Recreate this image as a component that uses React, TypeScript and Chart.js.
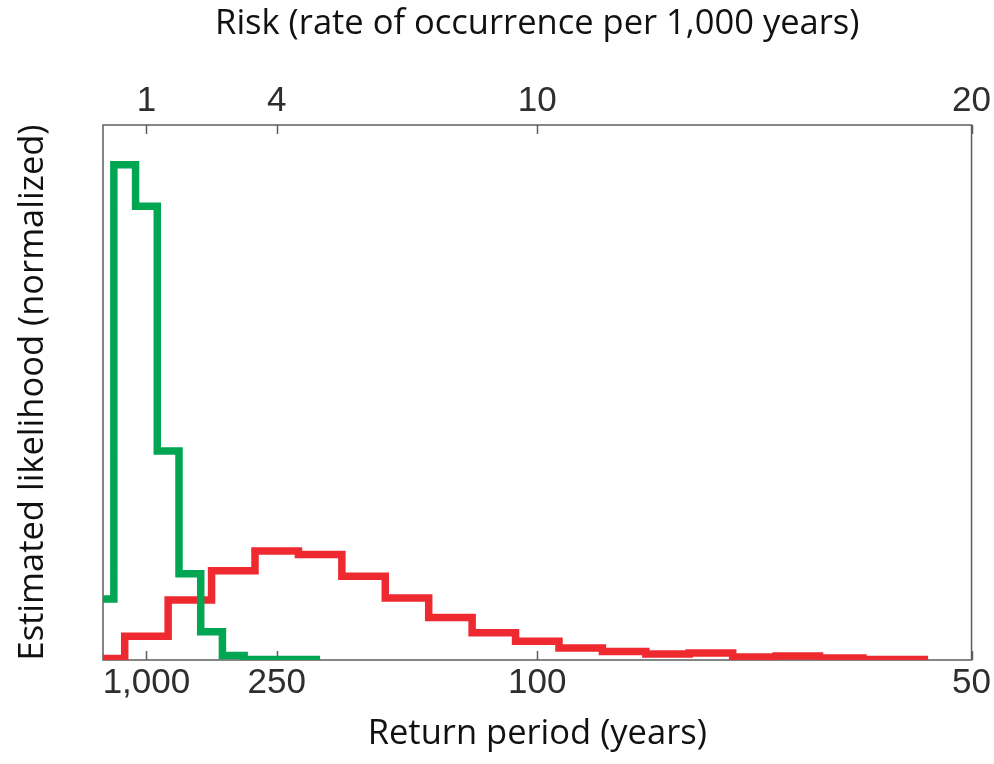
import React, { useEffect, useRef } from 'react';
import { Chart, registerables } from 'chart.js';

Chart.register(...registerables);

// Risk axis (events per 1,000 years) and the matching return periods
const riskTicks = [1, 4, 10, 20];
const riskLabels = ['1', '4', '10', '20'];
const returnPeriodLabels = ['1,000', '250', '100', '50'];

// Green histogram: bin edges on the risk axis, normalized likelihood per bin
const greenEdges = [0, 0.25, 0.75, 1.25, 1.75, 2.25, 2.75, 3.25, 5];
const greenLikelihood = [0.123, 1.0, 0.916, 0.422, 0.174, 0.057, 0.009, 0.001];

// Red histogram: bin edges on the risk axis, normalized likelihood per bin
const redEdges = [0, 0.5, 1.5, 2.5, 3.5, 4.5, 5.5, 6.5, 7.5, 8.5, 9.5, 10.5, 11.5, 12.5, 13.5, 14.5, 15.5, 16.5, 17.5, 19];
const redLikelihood = [0.003, 0.048, 0.121, 0.18, 0.22, 0.213, 0.169, 0.125, 0.086, 0.055, 0.038, 0.024, 0.017, 0.012, 0.014, 0.006, 0.008, 0.004, 0.001];

const GREEN = '#00a651';
const RED = '#ee2a30';

// Turn bin edges + values into points for a step-before line
function stepPoints(edges: number[], values: number[]) {
  const pts = values.map((v, i) => ({ x: edges[i], y: v }));
  pts.push({ x: edges[edges.length - 1], y: values[values.length - 1] });
  return pts;
}

const tickFont = { family: '"Liberation Sans", Arial, Helvetica, sans-serif', size: 35 };
const titleFont = { family: '"Open Sans", Lato, sans-serif', size: 34.5 };

// Plot frame and inward tick marks on top and bottom edges
const framePlugin = {
  id: 'frame',
  beforeDatasetsDraw(chart: any) {
    const { ctx, chartArea: a, scales } = chart;
    ctx.save();
    ctx.strokeStyle = '#5e5e5e';
    ctx.lineWidth = 1.5;
    ctx.strokeRect(a.left, a.top, a.right - a.left, a.bottom - a.top);
    ctx.beginPath();
    riskTicks.forEach((v) => {
      const px = Math.round(scales.x.getPixelForValue(v)) + 0.5;
      ctx.moveTo(px, a.top);
      ctx.lineTo(px, a.top + 9);
      ctx.moveTo(px, a.bottom);
      ctx.lineTo(px, a.bottom - 9);
    });
    ctx.stroke();
    ctx.restore();
  },
};

export default function App() {
  const canvasRef = useRef<HTMLCanvasElement | null>(null);

  useEffect(() => {
    const canvas = canvasRef.current;
    if (!canvas) return;
    const setTicks = (s: any) => {
      s.ticks = riskTicks.map((v) => ({ value: v }));
    };
    const chart = new Chart(canvas, {
      type: 'line',
      data: {
        datasets: [
          {
            label: 'green',
            data: stepPoints(greenEdges, greenLikelihood),
            borderColor: GREEN,
            borderWidth: 7.5,
            stepped: 'before',
            pointRadius: 0,
            fill: false,
            borderJoinStyle: 'miter',
            borderCapStyle: 'butt',
          },
          {
            label: 'red',
            data: stepPoints(redEdges, redLikelihood),
            borderColor: RED,
            borderWidth: 7.5,
            stepped: 'before',
            pointRadius: 0,
            fill: false,
            borderJoinStyle: 'miter',
            borderCapStyle: 'butt',
          },
        ],
      },
      options: {
        animation: false,
        responsive: false,
        devicePixelRatio: 1,
        layout: { padding: { left: 0, top: 0, right: 21, bottom: 0 } },
        plugins: {
          legend: { display: false },
          tooltip: { enabled: false },
        },
        events: [],
        scales: {
          x: {
            type: 'linear',
            position: 'bottom',
            min: 0,
            max: 20,
            afterBuildTicks: setTicks,
            afterFit: (s: any) => {
              s.height = 104;
            },
            ticks: {
              autoSkip: false,
              maxRotation: 0,
              padding: 2,
              font: tickFont,
              color: '#2e2e2e',
              callback: (v: any) => returnPeriodLabels[riskTicks.indexOf(Number(v))],
            },
            grid: { display: false, drawTicks: false },
            border: { display: false },
            title: {
              display: true,
              text: 'Return period (years)',
              font: titleFont,
              color: '#111',
              padding: { top: 0, bottom: 9 },
            },
          },
          x2: {
            type: 'linear',
            position: 'top',
            min: 0,
            max: 20,
            afterBuildTicks: setTicks,
            afterFit: (s: any) => {
              s.height = 125;
            },
            ticks: {
              autoSkip: false,
              maxRotation: 0,
              padding: 3,
              font: tickFont,
              color: '#2e2e2e',
              callback: (v: any) => riskLabels[riskTicks.indexOf(Number(v))],
            },
            grid: { display: false, drawTicks: false },
            border: { display: false },
            title: {
              display: true,
              text: 'Risk (rate of occurrence per 1,000 years)',
              font: titleFont,
              color: '#111',
              padding: { top: 3.5, bottom: 0 },
            },
          },
          y: {
            type: 'linear',
            position: 'left',
            min: 0,
            max: 1.08,
            afterFit: (s: any) => {
              s.width = 103;
            },
            ticks: { display: false },
            grid: { display: false, drawTicks: false },
            border: { display: false },
            title: {
              display: true,
              text: 'Estimated likelihood (normalized)',
              font: titleFont,
              color: '#111',
              padding: { top: 12, bottom: 0 },
            },
          },
        },
      },
      plugins: [framePlugin],
    } as any);
    return () => chart.destroy();
  }, []);

  return (
    <div style={{ position: 'fixed', left: 0, top: 0, width: 994, height: 764, background: '#fff' }}>
      <canvas ref={canvasRef} width={994} height={764} style={{ display: 'block', width: 994, height: 764 }} />
    </div>
  );
}
